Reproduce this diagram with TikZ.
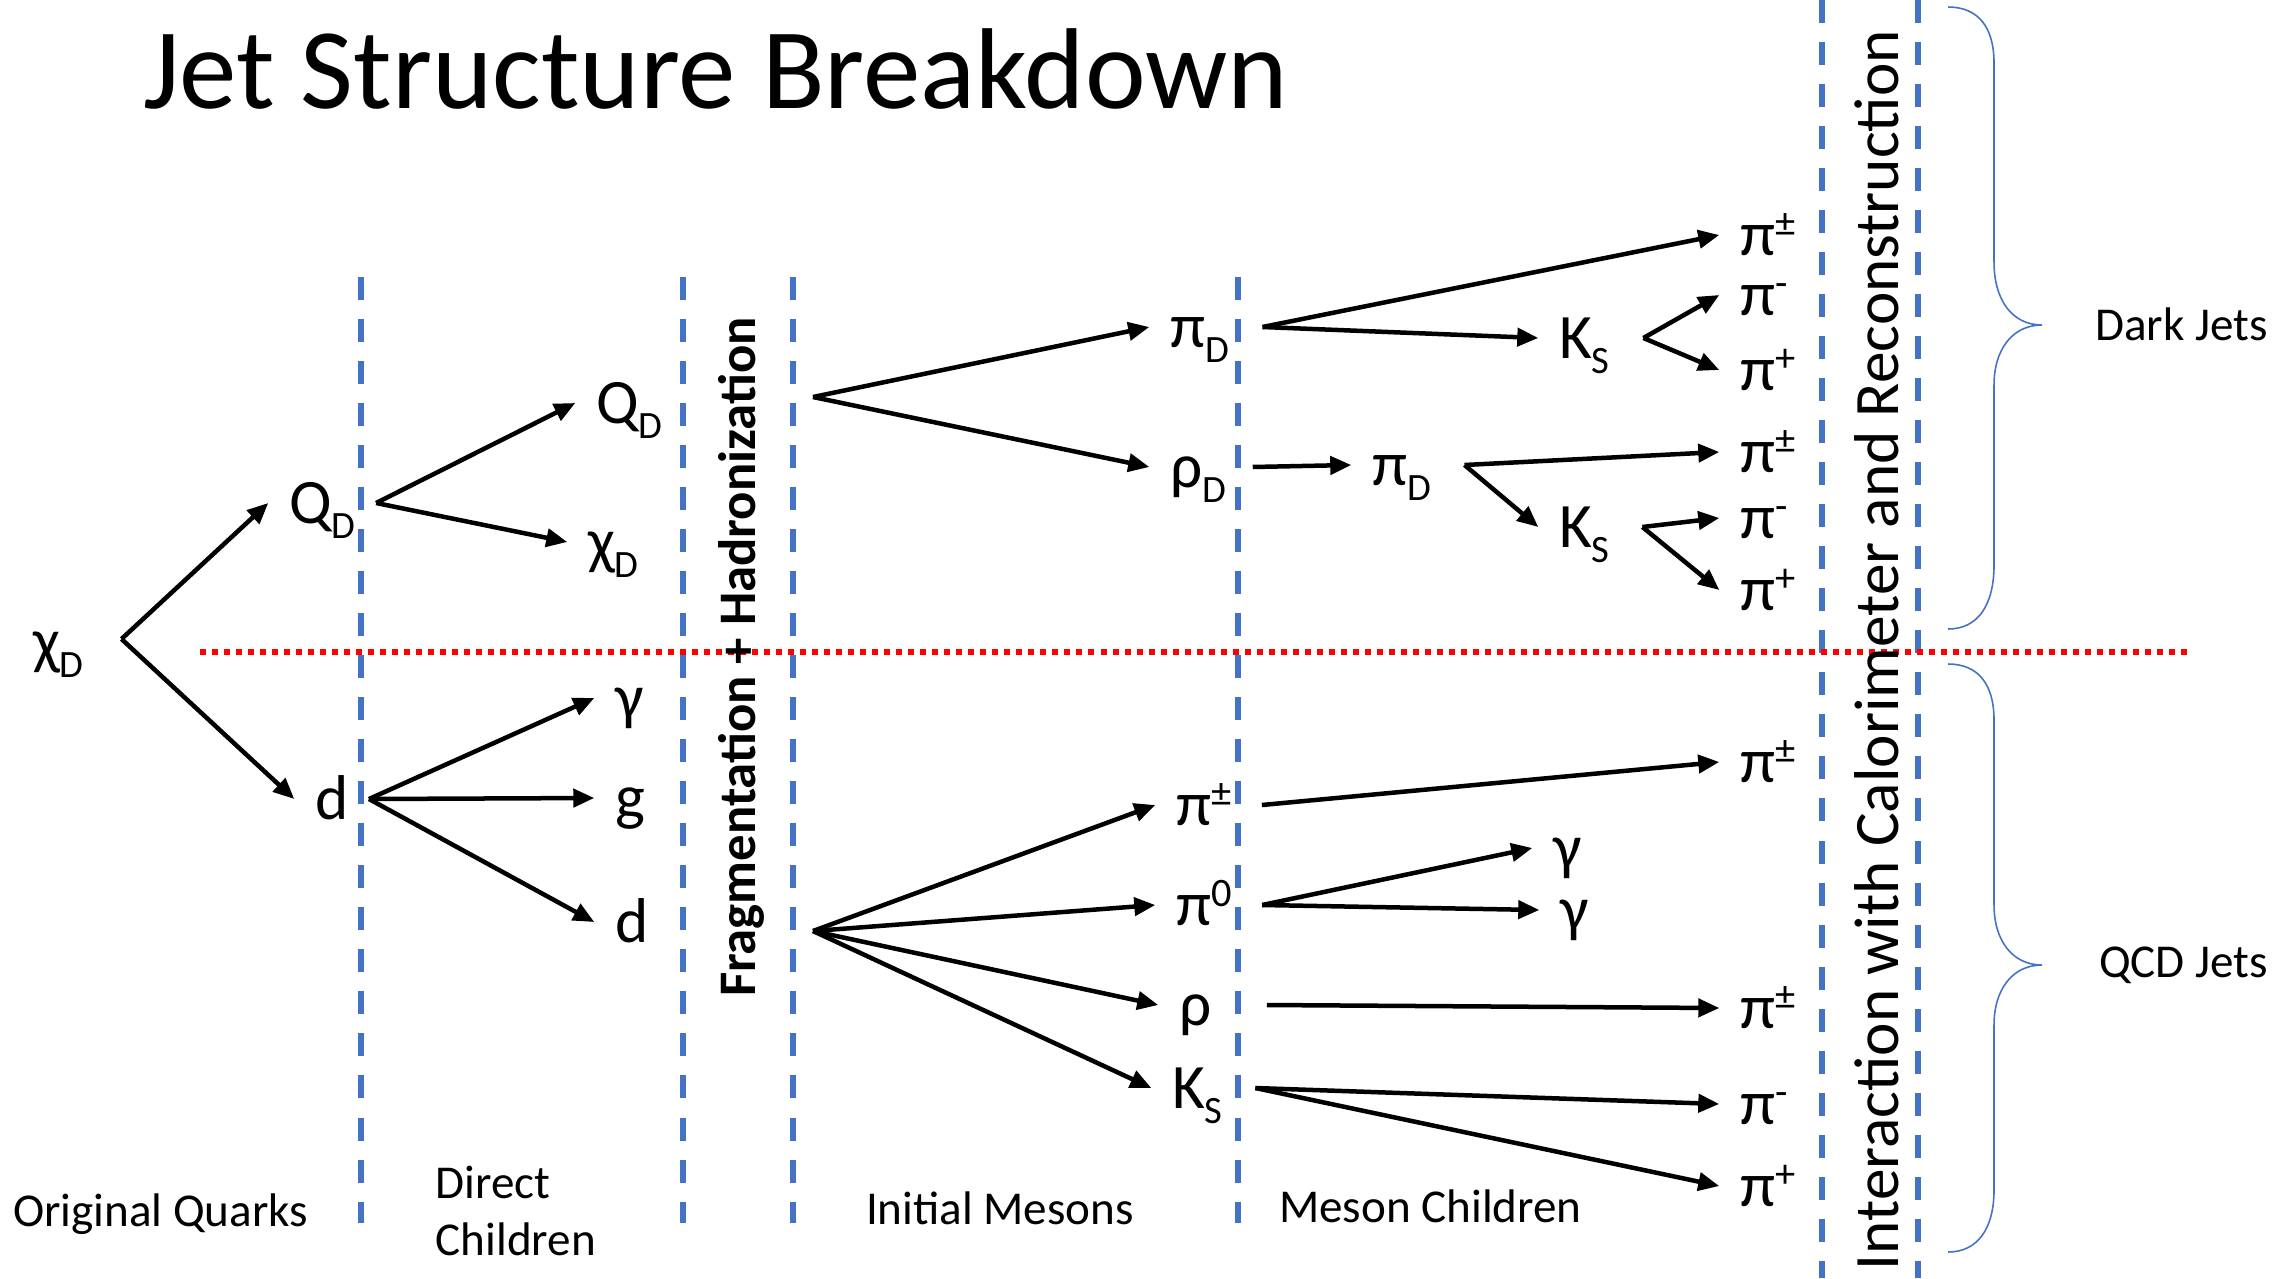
\documentclass[tikz,border=0pt]{standalone}
\usepackage{fontspec}
\setmainfont{Carlito}
\usetikzlibrary{arrows.meta}
\definecolor{sepblue}{HTML}{4472C4}

\newcommand{\dn}[1]{\raisebox{-0.25em}{\fontsize{11}{11}\selectfont #1}}
\newcommand{\up}[1]{\raisebox{0.3em}{\fontsize{11.5}{11.5}\selectfont #1}}

\begin{document}
\begin{tikzpicture}[x=0.01cm, y=-0.01cm,
    part/.style={anchor=text, font=\fontsize{18}{21}\selectfont, inner xsep=0.2cm, inner ysep=0pt, text height=0.4cm, text depth=0pt},
    note/.style={anchor=text, font=\fontsize{13.4}{16.2}\selectfont, inner sep=0pt},
    decay/.style={line width=0.045cm, -{Triangle[length=0.21cm, width=0.18cm]}},
    stage/.style={sepblue, line width=0.06cm, dash pattern=on 0.23cm off 0.19cm},
    jetcut/.style={red, line width=0.06cm, dash pattern=on 0.06cm off 0.06cm},
    brace/.style={sepblue, line width=0.45pt}]
    \useasboundingbox (0,0) rectangle (2289,1278);

    % Title
    \node[anchor=text, font=\fontsize{32.7}{36}\selectfont, inner sep=0pt] (title) at (143,108) {Jet Structure Breakdown};

    % Stage separators
    \foreach \x in {361,683,793,1238}
        \draw[stage] (\x,277) -- (\x,1223);
    \foreach \x in {1822,1918}
        \draw[stage] (\x,0) -- (\x,1278);

    % Dark / QCD split
    \draw[jetcut] (200,652) -- (2190,652);

    % Original quarks
    \node[part] (chiD) at (33,662) {χ\dn{D}};
    \node[part] (QD) at (289,523) {Q\dn{D}};
    \node[part] (dq) at (315,819) {d};

    % Direct children
    \node[part] (QDc) at (596,423) {Q\dn{D}};
    \node[part] (chiDc) at (588,562) {χ\dn{D}};
    \node[part] (gam) at (615,718) {γ};
    \node[part] (glu) at (615,818) {g};
    \node[part] (dc) at (615,942) {d};

    % Initial mesons
    \node[part] (piD) at (1170,347) {π\dn{D}};
    \node[part] (rhoD) at (1170,487) {ρ\dn{D}};
    \node[part] (pipm) at (1176,825) {π\up{±}};
    \node[part] (pi0) at (1176,925) {π\up{0}};
    \node[part] (rho) at (1179,1025) {ρ};
    \node[part] (KS) at (1172,1108) {K\dn{S}};

    % Meson children
    \node[part] (KSa) at (1559,358) {K\dn{S}};
    \node[part] (piDb) at (1372,485) {π\dn{D}};
    \node[part] (KSb) at (1559,547) {K\dn{S}};
    \node[part] (gama) at (1553,868) {γ};
    \node[part] (gamb) at (1560,930) {γ};

    % Final pions
    \node[part] (fa) at (1740,255) {π\up{±}};
    \node[part] (fb) at (1740,315) {π\up{-}};
    \node[part] (fc) at (1740,390) {π\up{+}};
    \node[part] (fd) at (1740,472) {π\up{±}};
    \node[part] (fe) at (1740,538) {π\up{-}};
    \node[part] (ff) at (1740,610) {π\up{+}};
    \node[part] (fg) at (1740,782) {π\up{±}};
    \node[part] (fh) at (1740,1028) {π\up{±}};
    \node[part] (fi) at (1740,1124) {π\up{-}};
    \node[part] (fj) at (1740,1206) {π\up{+}};

    % Fork points
    \coordinate (chiD-o) at ([xshift=0.17cm, yshift=0.03cm]chiD.east);
    \coordinate (hadD) at (813,397);
    \coordinate (hadQ) at (813,931);
    \coordinate (piD-o) at ([xshift=0.13cm]piD.east);
    \coordinate (rhoD-o) at ([xshift=0.06cm]rhoD.east);
    \coordinate (pipm-o) at ([xshift=0.1cm]pipm.east);
    \coordinate (pi0-o) at ([xshift=0.1cm]pi0.east);
    \coordinate (rho-o) at ([xshift=0.35cm]rho.east);
    \coordinate (KS-o) at ([xshift=0.12cm]KS.east);
    \coordinate (KSa-o) at ([xshift=0.13cm]KSa.east);
    \coordinate (piDb-o) at ([xshift=0.13cm]piDb.east);
    \coordinate (KSb-o) at ([xshift=0.12cm]KSb.east);

    % Decays
    \draw[decay] (chiD-o) -- (QD.west);
    \draw[decay] (chiD-o) -- (dq.west);
    \draw[decay] (QD.east) -- (QDc.west);
    \draw[decay] (QD.east) -- (chiDc.west);
    \draw[decay] (dq.east) -- (gam.west);
    \draw[decay] (dq.east) -- (glu.west);
    \draw[decay] (dq.east) -- (dc.west);

    \draw[decay] (hadD) -- (piD.west);
    \draw[decay] (hadD) -- (rhoD.west);
    \draw[decay] (hadQ) -- (pipm.west);
    \draw[decay] (hadQ) -- (pi0.west);
    \draw[decay] (hadQ) -- (rho.west);
    \draw[decay] (hadQ) -- (KS.west);

    \draw[decay] (piD-o) -- (fa.west);
    \draw[decay] (piD-o) -- (KSa.west);
    \draw[decay] (KSa-o) -- (fb.west);
    \draw[decay] (KSa-o) -- (fc.west);
    \draw[decay] (rhoD-o) -- (piDb.west);
    \draw[decay] (piDb-o) -- (fd.west);
    \draw[decay] (piDb-o) -- (KSb.west);
    \draw[decay] (KSb-o) -- (fe.west);
    \draw[decay] (KSb-o) -- (ff.west);

    \draw[decay] (pipm-o) -- (fg.west);
    \draw[decay] (pi0-o) -- (gama.west);
    \draw[decay] (pi0-o) -- (gamb.west);
    \draw[decay] (rho-o) -- (fh.west);
    \draw[decay] (KS-o) -- (fi.west);
    \draw[decay] (KS-o) -- (fj.west);

    % Stage labels
    \node[note] (lblOQ) at (13,1226) {Original Quarks};
    \node[note, align=left, anchor=base west] (lblDC) at (435,1255) {Direct\\Children};
    \node[note] (lblIM) at (866,1224) {Initial Mesons};
    \node[note] (lblMC) at (1279,1222) {Meson Children};
    \node[anchor=base, rotate=90, font=\fontsize{15}{18}\selectfont\bfseries, inner sep=0pt] (lblFH) at (755,657) {Fragmentation + Hadronization};
    \node[anchor=base, rotate=90, font=\fontsize{18}{21}\selectfont, inner sep=0pt] (lblIC) at (1898,650) {Interaction with Calorimeter and Reconstruction};

    % Jet braces
    \draw[brace] (1948,7) .. controls (1978,7) and (1994,27) .. (1994,63) -- (1994,262)
        .. controls (1994,300) and (2012,325) .. (2042,325)
        .. controls (2012,325) and (1994,350) .. (1994,385) -- (1994,565)
        .. controls (1994,605) and (1978,629) .. (1948,629);
    \draw[brace] (1948,664) .. controls (1978,664) and (1994,684) .. (1994,720) -- (1994,905)
        .. controls (1994,940) and (2012,965) .. (2042,965)
        .. controls (2012,965) and (1994,990) .. (1994,1025) -- (1994,1190)
        .. controls (1994,1228) and (1978,1252) .. (1948,1252);
    \node[note] (lblDJ) at (2095,340) {Dark Jets};
    \node[note] (lblQJ) at (2099,977) {QCD Jets};
\end{tikzpicture}
\end{document}
